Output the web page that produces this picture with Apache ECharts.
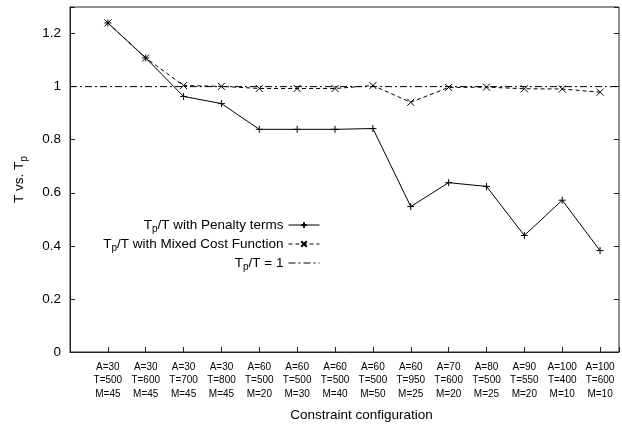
<!DOCTYPE html>
<html>
<head>
<meta charset="utf-8">
<script src="https://cdn.jsdelivr.net/npm/echarts@6/dist/echarts.min.js"></script>
<style>
html,body{margin:0;padding:0;background:#fff;}
#c{width:622px;height:428px;}
</style>
</head>
<body>
<div id="c"></div>
<script>
// ---- data ----
var aVals = [30, 30, 30, 30, 60, 60, 60, 60, 60, 70, 80, 90, 100, 100];
var tVals = [500, 600, 700, 800, 500, 500, 500, 500, 950, 600, 500, 550, 400, 600];
var mVals = [45, 45, 45, 45, 20, 30, 40, 50, 25, 20, 25, 20, 10, 10];
var penalty = [1.24, 1.108, 0.963, 0.936, 0.839, 0.839, 0.839, 0.842, 0.548, 0.638, 0.624, 0.439, 0.572, 0.382];
var mixed = [1.24, 1.108, 1.004, 1.001, 0.993, 0.993, 0.993, 1.004, 0.941, 0.997, 0.998, 0.992, 0.991, 0.979];
var refLevel = 1;
var yTickLabels = ['0', '0.2', '0.4', '0.6', '0.8', '1', '1.2'];
var xMin = 0, xMax = 14.5;
var yMin = 0, yMax = 1.3, yStep = 0.2;

var legendText = {
  Penalty: '{b|T}{s|p}{b|/T with Penalty terms}',
  Mixed: '{b|T}{s|p}{b|/T with Mixed Cost Function}',
  Ref: '{b|T}{s|p}{b|/T = 1}'
};

var configLabels = aVals.map(function (a, i) {
  return 'A=' + a + '\nT=' + tVals[i] + '\nM=' + mVals[i];
});
var penaltyData = penalty.map(function (v, i) { return [i + 1, v]; });
var mixedData = mixed.map(function (v, i) { return [i + 1, v]; });
var refData = [[xMin, refLevel], [xMax, refLevel]];

var FONT = '"Liberation Sans", Arial, sans-serif';
var plusPath = 'path://M0,-1L0,1M-1,0L1,0';
var crossPath = 'path://M-1,-1L1,1M-1,1L1,-1';

var richStyle = {
  b: { fontSize: 13.5, fontFamily: FONT, color: '#000' },
  s: { fontSize: 10, fontFamily: FONT, color: '#000', padding: [9, 0, 0, 0] }
};

function makeLegend(item, top) {
  return {
    data: [item],
    right: 302,
    top: top,
    orient: 'vertical',
    align: 'right',
    itemWidth: 31,
    itemHeight: 7,
    padding: 0,
    selectedMode: false,
    lineStyle: { width: 1 },
    formatter: function (n) { return legendText[n]; },
    textStyle: { fontFamily: FONT, fontSize: 13.5, color: '#000', rich: richStyle }
  };
}

var chart = echarts.init(document.getElementById('c'), null, { renderer: 'canvas' });
chart.setOption({
  animation: false,
  backgroundColor: '#fff',
  grid: {
    left: 70, top: 7, width: 556, height: 345,
    show: true, borderColor: '#222', borderWidth: 1, backgroundColor: 'transparent'
  },
  legend: [
    makeLegend({ name: 'Penalty' }, 218),
    makeLegend({ name: 'Mixed' }, 237),
    makeLegend({ name: 'Ref', itemStyle: { opacity: 0 } }, 256)
  ],
  xAxis: {
    type: 'value',
    min: xMin, max: xMax, interval: 1,
    name: 'Constraint configuration',
    nameLocation: 'middle',
    nameGap: 56,
    nameTextStyle: { fontFamily: FONT, fontSize: 13.5, color: '#000', padding: [0, 0, 0, 34] },
    axisLine: { show: true, lineStyle: { color: '#222', width: 1 } },
    axisTick: { show: true, inside: true, length: 5, lineStyle: { color: '#222' } },
    splitLine: { show: false },
    axisLabel: {
      fontFamily: FONT, fontSize: 10, color: '#000', lineHeight: 13.5, margin: 8,
      showMinLabel: true, showMaxLabel: true,
      formatter: function (v) {
        var i = Math.round(v);
        if (Math.abs(v - i) < 1e-6 && i >= 1 && i <= configLabels.length) return configLabels[i - 1];
        return '';
      }
    }
  },
  yAxis: [{
    type: 'value',
    min: yMin, max: yMax, interval: yStep,
    name: 'T vs. T{s|p}',
    nameLocation: 'middle',
    nameGap: 41,
    nameRotate: 90,
    nameTextStyle: { fontFamily: FONT, fontSize: 13.5, color: '#000', rich: {
      s: { fontSize: 10, fontFamily: FONT, color: '#000', padding: [9, 0, 0, 0] }
    } },
    axisLine: { show: true, lineStyle: { color: '#222', width: 1 } },
    axisTick: { show: true, inside: true, length: 5, lineStyle: { color: '#222' } },
    splitLine: { show: false },
    axisLabel: {
      fontFamily: FONT, fontSize: 13.5, color: '#000', margin: 9,
      formatter: function (v) {
        var k = Math.round(v / yStep);
        if (Math.abs(v - k * yStep) < 1e-6 && k >= 0 && k < yTickLabels.length) return yTickLabels[k];
        return '';
      }
    }
  }, {
    type: 'value',
    position: 'right',
    min: yMin, max: yMax, interval: yStep,
    axisLine: { show: false },
    axisTick: { show: true, inside: true, length: 5, lineStyle: { color: '#222' } },
    axisLabel: { show: false },
    splitLine: { show: false }
  }],
  series: [{
    name: 'Penalty',
    type: 'line',
    data: penaltyData,
    symbol: plusPath,
    symbolSize: 7,
    lineStyle: { color: '#000', width: 1, type: 'solid' },
    itemStyle: { color: '#000', borderColor: '#000', borderWidth: 1 },
    z: 4
  }, {
    name: 'Mixed',
    type: 'line',
    data: mixedData,
    symbol: crossPath,
    symbolSize: 7,
    lineStyle: { color: '#000', width: 1, type: [4, 3] },
    itemStyle: { color: '#000', borderColor: '#000', borderWidth: 1 },
    z: 3
  }, {
    name: 'Ref',
    type: 'line',
    data: refData,
    symbol: 'none',
    itemStyle: { color: '#000' },
    lineStyle: { color: '#000', width: 1, type: [7, 3, 2, 3] },
    z: 2
  }]
});
</script>
</body>
</html>
